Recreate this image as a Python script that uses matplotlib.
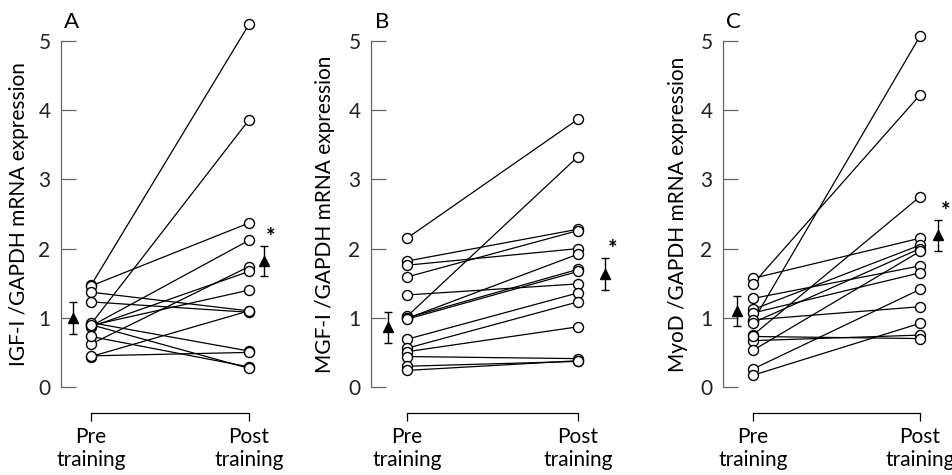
import matplotlib
matplotlib.use('Agg')
import matplotlib.pyplot as plt

plt.rcParams['font.family'] = ['Lato', 'DejaVu Sans']

# 数据：训练前后的个体值（配对）
igf_pre = [1.47, 1.46, 0.91, 1.37, 1.23, 0.88, 0.62, 0.87, 0.89, 0.44, 0.93, 0.45, 0.73, 0.90]
igf_post = [5.24, 2.37, 3.86, 1.10, 1.08, 2.12, 1.74, 1.67, 1.40, 1.10, 0.52, 0.50, 0.29, 0.27]
igf_mean = [1.00, 1.82]
igf_err = [0.23, 0.22]

mgf_pre = [2.15, 1.82, 1.76, 1.59, 1.33, 1.02, 0.99, 1.00, 0.98, 0.69, 0.56, 0.51, 0.44, 0.30, 0.24]
mgf_post = [3.87, 2.28, 2.00, 2.26, 1.49, 3.33, 1.92, 1.70, 1.67, 1.36, 1.23, 0.87, 0.41, 0.37, 0.38]
mgf_mean = [0.86, 1.63]
mgf_err = [0.23, 0.23]

myod_pre = [1.57, 1.49, 0.95, 0.75, 1.28, 1.12, 1.07, 0.97, 0.93, 0.67, 0.73, 0.53, 0.26, 0.17]
myod_post = [2.15, 4.22, 5.07, 2.75, 1.75, 2.05, 1.65, 1.16, 2.00, 0.75, 0.70, 1.96, 1.41, 0.92]
myod_mean = [1.10, 2.19]
myod_err = [0.22, 0.22]

panels = [
    ('A', 'IGF-I /GAPDH mRNA expression', igf_pre, igf_post, igf_mean, igf_err),
    ('B', 'MGF-I /GAPDH mRNA expression', mgf_pre, mgf_post, mgf_mean, mgf_err),
    ('C', 'MyoD /GAPDH mRNA expression', myod_pre, myod_post, myod_mean, myod_err),
]
x_labels = ['Pre\ntraining', 'Post\ntraining']

# 每个面板的布局（像素）：左轴位置、前后点位置、均值位置、纵轴标题位置
layout = [
    dict(spine=61, pre=91, post=249, mpre=73, mpost=264, lab=29),
    dict(spine=371, pre=407, post=578, mpre=388, mpost=605, lab=335),
    dict(spine=723, pre=753, post=920, mpre=737, mpost=938, lab=688),
]

W, H = 952, 475
y0_px, y5_px = 387, 41
unit = (y0_px - y5_px) / 5.0
ytop = 5.35

fig = plt.figure(figsize=(W / 100, H / 100), dpi=100)

for (letter, ylabel, pre, post, mean, err), lay in zip(panels, layout):
    scale = lay['post'] - lay['pre']
    x_left = (lay['spine'] - lay['pre']) / scale
    x_right = 1.3
    width_px = (x_right - x_left) * scale
    ax = fig.add_axes([lay['spine'] / W, (H - y0_px) / H, width_px / W, ytop * unit / H])
    ax.set_xlim(x_left, x_right)
    ax.set_ylim(0, ytop)

    # 配对连线和空心圆
    for a, b in zip(pre, post):
        ax.plot([0, 1], [a, b], color='black', lw=0.9, zorder=2, clip_on=False)
    ax.plot([0] * len(pre), pre, 'o', ms=7.2, mfc='white', mec='black', mew=1.0, zorder=3, clip_on=False)
    ax.plot([1] * len(post), post, 'o', ms=7.2, mfc='white', mec='black', mew=1.0, zorder=3, clip_on=False)

    # 均值±误差
    mx = [(lay['mpre'] - lay['pre']) / scale, (lay['mpost'] - lay['pre']) / scale]
    ax.errorbar(mx, mean, yerr=err, fmt='^', color='black', ms=7, capsize=3, elinewidth=1.0,
                capthick=1.0, clip_on=False, zorder=4)
    ax.text(mx[1] + 0.045, mean[1] + err[1] + 0.12, '*', fontsize=16, fontweight='bold',
            ha='center', va='center')

    # 坐标轴样式
    for s in ['top', 'right']:
        ax.spines[s].set_visible(False)
    ax.spines['left'].set_bounds(0, 5)
    ax.spines['left'].set_color('#666666')
    ax.spines['left'].set_linewidth(0.9)
    ax.spines['bottom'].set_position(('outward', 19))
    ax.spines['bottom'].set_bounds(0, 1)
    ax.spines['bottom'].set_linewidth(0.9)
    ax.set_yticks([0, 1, 2, 3, 4, 5])
    ax.tick_params(axis='y', direction='in', length=11, width=0.9, color='#666666',
                   labelsize=15, pad=7.5, labelcolor='#222222')
    ax.set_xticks([0, 1])
    ax.set_xticklabels(x_labels, fontsize=15, linespacing=1.2)
    ax.tick_params(axis='x', direction='out', length=6, width=0.9, pad=4)
    ax.set_ylabel(ylabel, fontsize=15)
    ax.yaxis.set_label_coords((lay['lab'] - lay['spine']) / width_px, 2.5 / ytop)
    ax.text(x_left + 0.065, 5.27, letter, fontsize=16, ha='center', va='center')
    ax.patch.set_visible(False)

fig.savefig('out.png', dpi=100)
